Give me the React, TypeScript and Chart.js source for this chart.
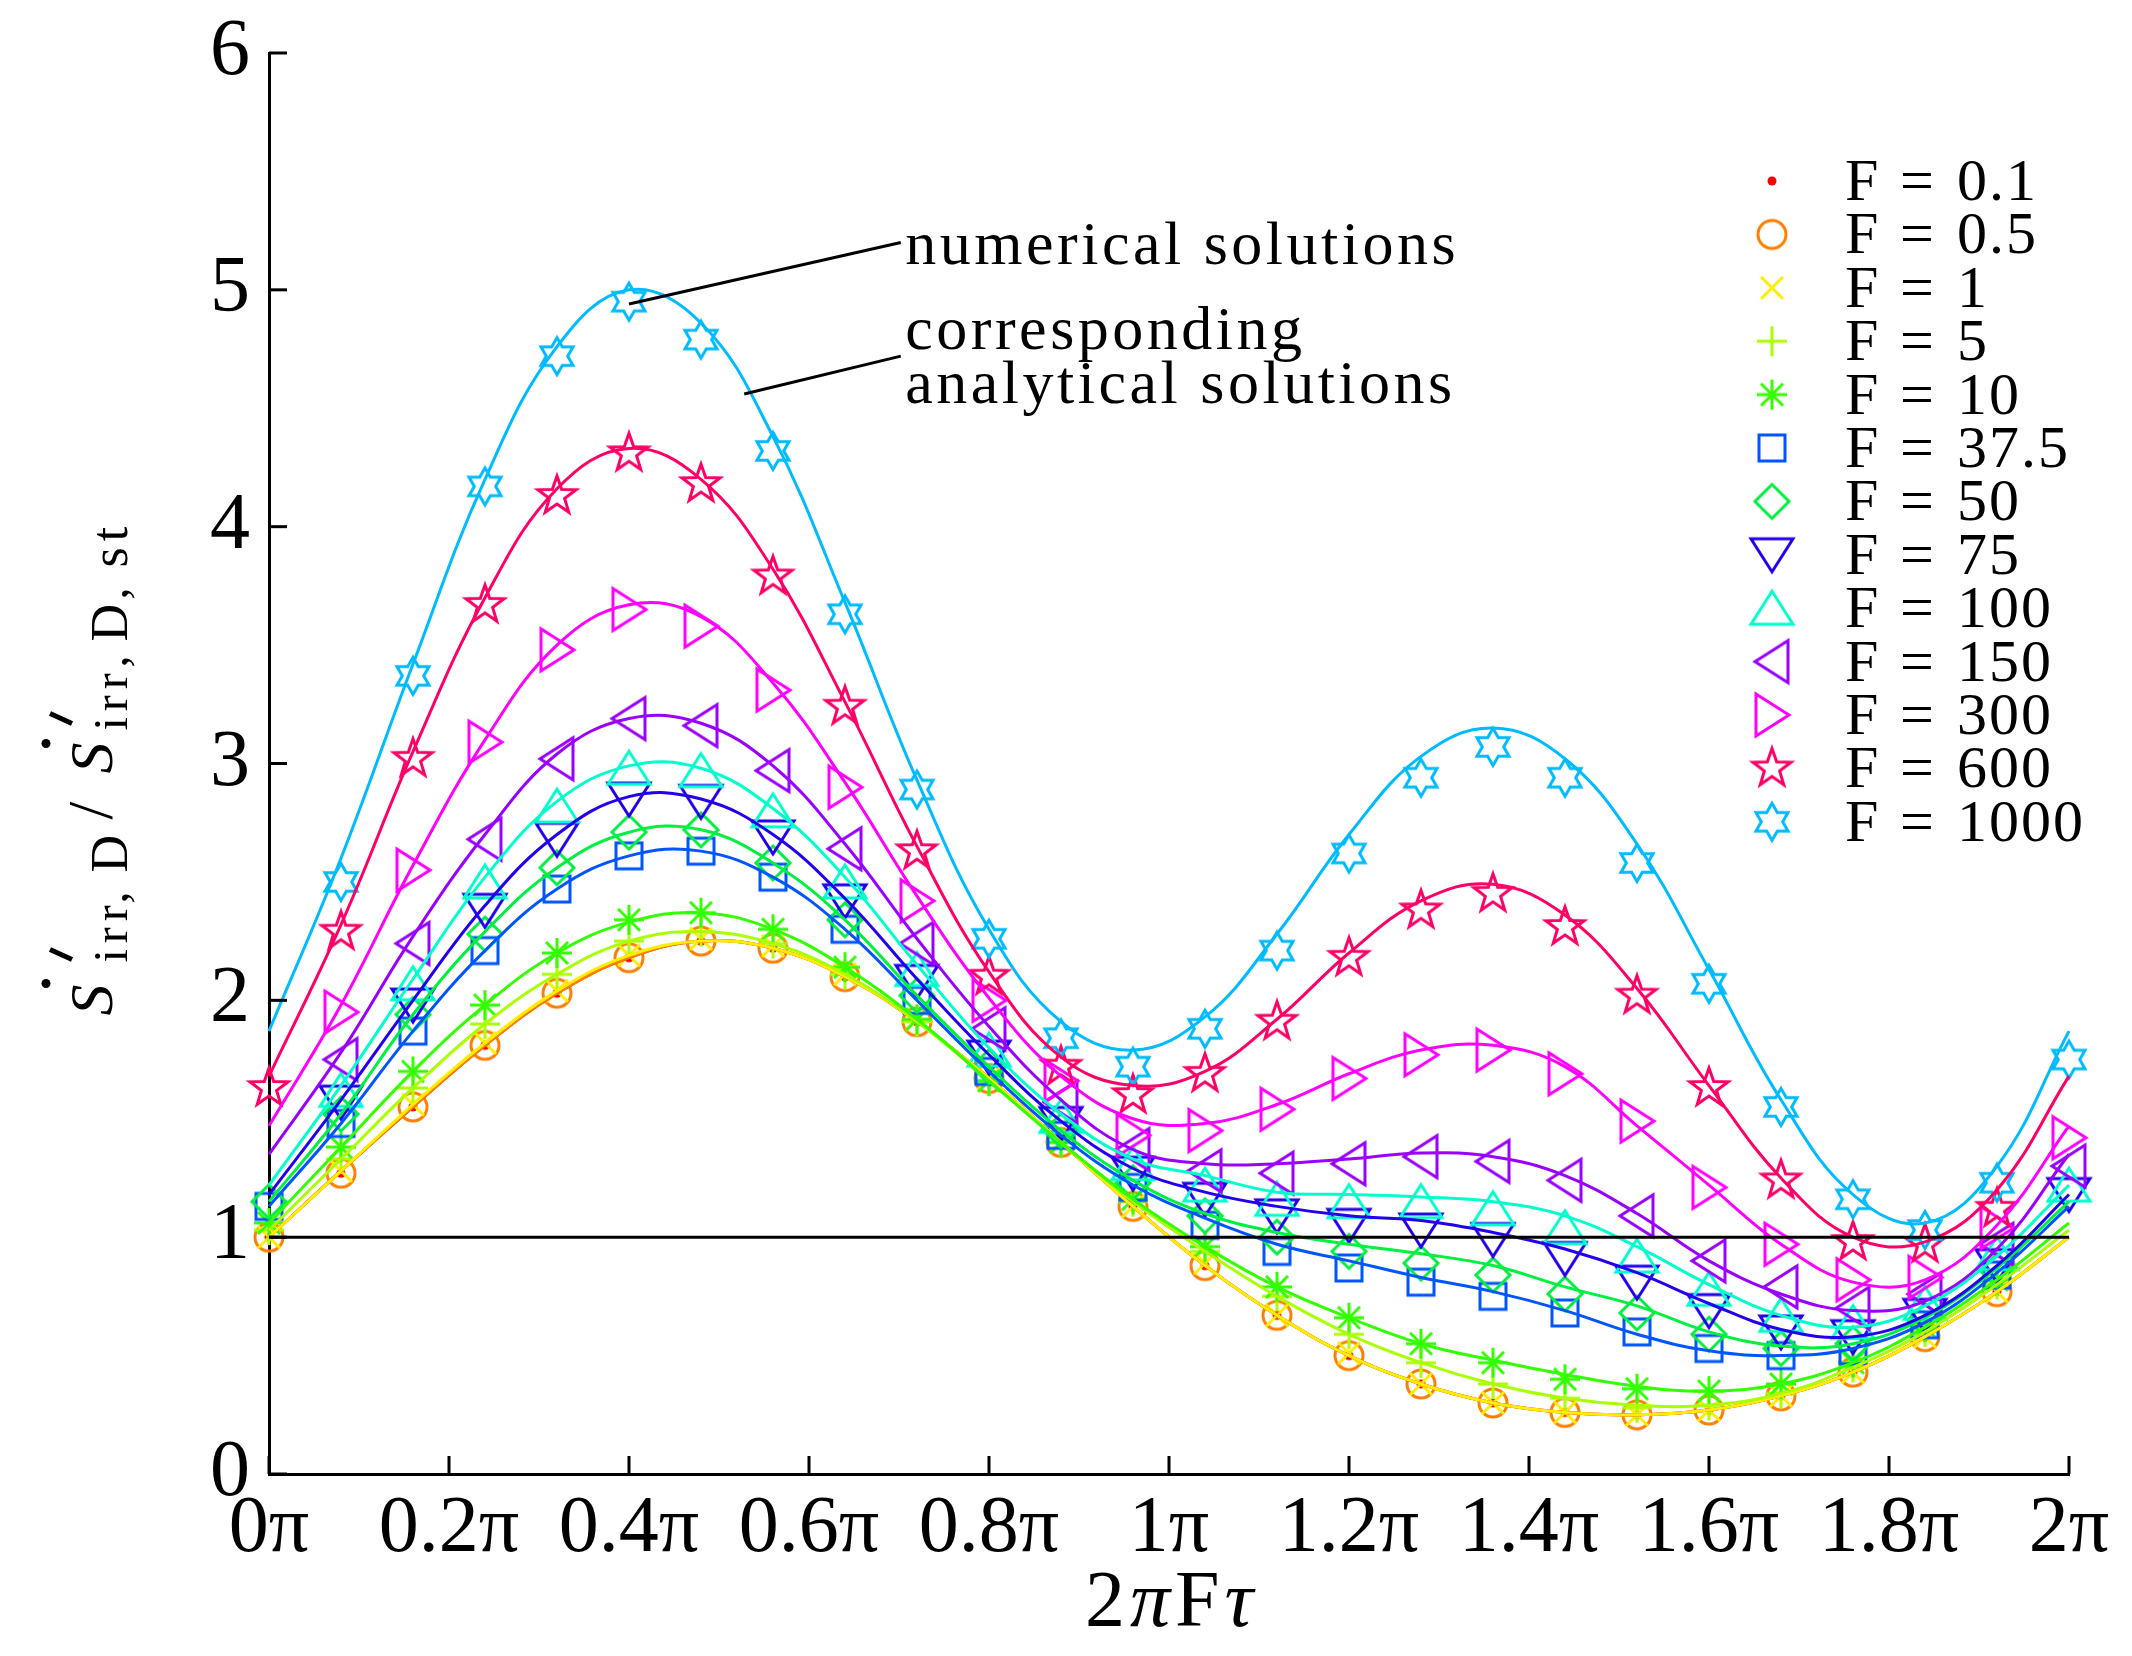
import React, { useEffect, useRef } from 'react';
import { Chart, registerables } from 'chart.js';

Chart.register(...registerables);

// x positions in units of pi
const xPos = [0, 0.08, 0.16, 0.24, 0.32, 0.4, 0.48, 0.56, 0.64, 0.72, 0.8, 0.88, 0.96, 1.04, 1.12, 1.2, 1.28, 1.36, 1.44, 1.52, 1.6, 1.68, 1.76, 1.84, 1.92, 2.0];

// numerical solutions (markers)
const num0_1 = [1.00, 1.27, 1.55, 1.81, 2.03, 2.18, 2.25, 2.22, 2.10, 1.91, 1.67, 1.40, 1.13, 0.88, 0.67, 0.50, 0.38, 0.30, 0.26, 0.25, 0.27, 0.33, 0.43, 0.58, 0.77, null];
const num0_5 = [1.00, 1.27, 1.55, 1.81, 2.03, 2.18, 2.25, 2.22, 2.10, 1.91, 1.67, 1.40, 1.13, 0.88, 0.67, 0.50, 0.38, 0.30, 0.26, 0.25, 0.27, 0.33, 0.43, 0.58, 0.77, null];
const num1 = [1.00, 1.28, 1.56, 1.82, 2.04, 2.19, 2.26, 2.23, 2.11, 1.92, 1.67, 1.40, 1.13, 0.89, 0.67, 0.51, 0.38, 0.30, 0.26, 0.25, 0.27, 0.33, 0.43, 0.58, 0.77, null];
const num5 = [1.03, 1.33, 1.63, 1.90, 2.11, 2.25, 2.29, 2.24, 2.11, 1.91, 1.66, 1.40, 1.15, 0.94, 0.75, 0.59, 0.47, 0.38, 0.32, 0.28, 0.29, 0.34, 0.45, 0.60, 0.80, null];
const num10 = [1.06, 1.38, 1.70, 1.98, 2.20, 2.34, 2.37, 2.30, 2.14, 1.92, 1.66, 1.40, 1.16, 0.96, 0.79, 0.66, 0.55, 0.47, 0.40, 0.36, 0.35, 0.38, 0.47, 0.62, 0.82, null];
const num37_5 = [1.13, 1.48, 1.87, 2.21, 2.47, 2.61, 2.63, 2.52, 2.30, 2.00, 1.70, 1.43, 1.21, 1.05, 0.94, 0.87, 0.81, 0.75, 0.68, 0.60, 0.53, 0.50, 0.52, 0.63, 0.84, null];
const num50 = [1.15, 1.52, 1.94, 2.28, 2.56, 2.71, 2.72, 2.58, 2.34, 2.02, 1.72, 1.45, 1.23, 1.09, 1.00, 0.94, 0.89, 0.84, 0.76, 0.68, 0.59, 0.53, 0.55, 0.65, 0.86, null];
const num75 = [null, 1.57, 1.98, 2.38, 2.68, 2.85, 2.84, 2.69, 2.42, 2.08, 1.76, 1.48, 1.27, 1.16, 1.09, 1.05, 1.03, 0.99, 0.91, 0.81, 0.69, 0.60, 0.58, 0.67, 0.88, 1.18];
const num100 = [null, 1.62, 2.07, 2.50, 2.82, 2.98, 2.97, 2.80, 2.50, 2.13, 1.79, 1.51, 1.31, 1.22, 1.16, 1.15, 1.15, 1.12, 1.04, 0.92, 0.78, 0.67, 0.64, 0.72, 0.93, 1.22];
const num150 = [null, 1.75, 2.24, 2.68, 3.02, 3.19, 3.16, 2.97, 2.64, 2.24, 1.88, 1.57, 1.37, 1.28, 1.27, 1.31, 1.34, 1.32, 1.24, 1.09, 0.90, 0.79, 0.70, 0.76, 0.97, 1.30];
const num300 = [null, 1.95, 2.55, 3.09, 3.48, 3.65, 3.58, 3.31, 2.90, 2.42, 2.00, 1.66, 1.43, 1.45, 1.54, 1.67, 1.77, 1.79, 1.69, 1.49, 1.21, 0.97, 0.82, 0.83, 1.04, 1.42];
const num600 = [1.63, 2.29, 3.02, 3.67, 4.13, 4.31, 4.18, 3.79, 3.24, 2.63, 2.10, 1.72, 1.60, 1.69, 1.91, 2.18, 2.38, 2.45, 2.31, 2.02, 1.63, 1.24, 0.98, 0.97, 1.12, null];
const num1000 = [null, 2.50, 3.37, 4.17, 4.72, 4.95, 4.79, 4.32, 3.63, 2.89, 2.26, 1.84, 1.72, 1.88, 2.21, 2.62, 2.94, 3.07, 2.94, 2.58, 2.07, 1.55, 1.16, 1.03, 1.23, 1.75];

// corresponding analytical solutions (lines)
const ana0_1 = [1.00, 1.28, 1.55, 1.81, 2.03, 2.18, 2.25, 2.22, 2.10, 1.91, 1.67, 1.40, 1.13, 0.88, 0.67, 0.50, 0.38, 0.30, 0.26, 0.25, 0.27, 0.33, 0.43, 0.58, 0.77, 1.00];
const ana0_5 = [1.00, 1.28, 1.55, 1.81, 2.03, 2.18, 2.25, 2.22, 2.10, 1.91, 1.67, 1.40, 1.13, 0.88, 0.67, 0.50, 0.38, 0.30, 0.26, 0.25, 0.27, 0.33, 0.43, 0.58, 0.77, 1.00];
const ana1 = [1.00, 1.28, 1.56, 1.82, 2.04, 2.19, 2.25, 2.22, 2.10, 1.91, 1.67, 1.40, 1.13, 0.88, 0.67, 0.50, 0.38, 0.30, 0.26, 0.25, 0.27, 0.33, 0.43, 0.58, 0.77, 1.00];
const ana5 = [1.03, 1.33, 1.63, 1.90, 2.11, 2.25, 2.29, 2.24, 2.11, 1.91, 1.66, 1.40, 1.15, 0.94, 0.75, 0.59, 0.47, 0.38, 0.32, 0.29, 0.29, 0.34, 0.45, 0.60, 0.80, 1.03];
const ana10 = [1.06, 1.38, 1.70, 1.98, 2.20, 2.33, 2.37, 2.30, 2.14, 1.92, 1.66, 1.40, 1.16, 0.96, 0.79, 0.66, 0.55, 0.48, 0.42, 0.37, 0.35, 0.38, 0.47, 0.62, 0.82, 1.06];
const ana37_5 = [1.13, 1.48, 1.87, 2.21, 2.47, 2.61, 2.63, 2.52, 2.30, 2.00, 1.70, 1.43, 1.22, 1.08, 0.97, 0.90, 0.83, 0.77, 0.69, 0.59, 0.52, 0.50, 0.53, 0.64, 0.85, 1.13];
const ana50 = [1.15, 1.52, 1.94, 2.29, 2.56, 2.71, 2.72, 2.58, 2.34, 2.02, 1.72, 1.45, 1.24, 1.10, 1.02, 0.97, 0.93, 0.88, 0.79, 0.71, 0.60, 0.54, 0.55, 0.66, 0.87, 1.15];
const ana75 = [1.18, 1.58, 2.00, 2.40, 2.70, 2.86, 2.85, 2.70, 2.43, 2.09, 1.77, 1.49, 1.29, 1.19, 1.13, 1.09, 1.07, 1.02, 0.95, 0.85, 0.72, 0.61, 0.58, 0.67, 0.88, 1.18];
const ana100 = [1.22, 1.64, 2.09, 2.52, 2.84, 2.99, 2.98, 2.81, 2.52, 2.15, 1.80, 1.52, 1.33, 1.26, 1.19, 1.18, 1.17, 1.15, 1.09, 0.96, 0.80, 0.67, 0.62, 0.71, 0.92, 1.22];
const ana150 = [1.35, 1.78, 2.27, 2.70, 3.04, 3.19, 3.17, 2.99, 2.66, 2.26, 1.89, 1.58, 1.37, 1.31, 1.31, 1.33, 1.355, 1.34, 1.26, 1.10, 0.90, 0.76, 0.69, 0.73, 0.95, 1.35];
const ana300 = [1.47, 1.98, 2.57, 3.10, 3.50, 3.67, 3.62, 3.34, 2.92, 2.44, 2.01, 1.68, 1.50, 1.48, 1.56, 1.69, 1.79, 1.81, 1.72, 1.47, 1.22, 0.97, 0.81, 0.82, 1.05, 1.47];
const ana600 = [1.68, 2.32, 3.05, 3.70, 4.16, 4.33, 4.20, 3.82, 3.26, 2.65, 2.12, 1.76, 1.64, 1.70, 1.92, 2.20, 2.42, 2.49, 2.36, 2.05, 1.64, 1.25, 1.00, 0.98, 1.20, 1.68];
const ana1000 = [1.87, 2.60, 3.42, 4.20, 4.76, 5.00, 4.86, 4.38, 3.68, 2.93, 2.30, 1.91, 1.79, 1.93, 2.28, 2.70, 3.03, 3.15, 3.02, 2.66, 2.13, 1.58, 1.18, 1.06, 1.30, 1.87];

const fLabels = ['0.1', '0.5', '1', '5', '10', '37.5', '50', '75', '100', '150', '300', '600', '1000'];
const colors = ['#ff0000', '#ff8000', '#ffee00', '#aaff00', '#33ff00', '#0055ff', '#00f040', '#2200ee', '#00ffcc', '#9900ff', '#ff00ff', '#ff0066', '#00bbff'];
const markerKinds = ['dot', 'circle', 'x', 'plus', 'asterisk', 'square', 'diamond', 'triDown', 'triUp', 'triLeft', 'triRight', 'star5', 'hexagram'];
const numerical = [num0_1, num0_5, num1, num5, num10, num37_5, num50, num75, num100, num150, num300, num600, num1000];
const analytical = [ana0_1, ana0_5, ana1, ana5, ana10, ana37_5, ana50, ana75, ana100, ana150, ana300, ana600, ana1000];

const xTicks = [0, 0.2, 0.4, 0.6, 0.8, 1, 1.2, 1.4, 1.6, 1.8, 2];
const refLevel = 1;

// annotation leader lines, in data units (x in pi, y in ratio)
const noteNumerical = { from: [0.4, 4.94], to: [0.702, 5.2], textAt: [0.707, 5.11] };
const noteAnalytical = { from: [0.528, 4.56], to: [0.702, 4.72], textAt: [0.707, 4.75] };

const SERIF = '"Liberation Serif", "Times New Roman", serif';

function makeMarker(kind: string, color: string): HTMLCanvasElement {
  const S = 54;
  const c = document.createElement('canvas');
  c.width = S;
  c.height = S;
  const g = c.getContext('2d')!;
  g.translate(S / 2, S / 2);
  g.strokeStyle = color;
  g.fillStyle = color;
  g.lineWidth = 3;
  g.lineJoin = 'miter';
  const poly = (pts: number[][]) => {
    g.beginPath();
    pts.forEach(([x, y], i) => (i ? g.lineTo(x, y) : g.moveTo(x, y)));
    g.closePath();
    g.stroke();
  };
  const seg = (x1: number, y1: number, x2: number, y2: number) => {
    g.beginPath();
    g.moveTo(x1, y1);
    g.lineTo(x2, y2);
    g.stroke();
  };
  switch (kind) {
    case 'dot':
      g.beginPath();
      g.arc(0, 0, 4.5, 0, Math.PI * 2);
      g.fill();
      break;
    case 'circle':
      g.beginPath();
      g.arc(0, 0, 14, 0, Math.PI * 2);
      g.stroke();
      break;
    case 'x':
      seg(-11, -11, 11, 11);
      seg(-11, 11, 11, -11);
      break;
    case 'plus':
      seg(-15, 0, 15, 0);
      seg(0, -15, 0, 15);
      break;
    case 'asterisk':
      seg(-15, 0, 15, 0);
      seg(0, -15, 0, 15);
      seg(-11, -11, 11, 11);
      seg(-11, 11, 11, -11);
      break;
    case 'square':
      poly([[-13, -13], [13, -13], [13, 13], [-13, 13]]);
      break;
    case 'diamond':
      poly([[0, -17], [17, 0], [0, 17], [-17, 0]]);
      break;
    case 'triUp':
      poly([[0, -17], [21, 16], [-21, 16]]);
      break;
    case 'triDown':
      poly([[0, 17], [21, -16], [-21, -16]]);
      break;
    case 'triLeft':
      poly([[-17, 0], [16, -21], [16, 21]]);
      break;
    case 'triRight':
      poly([[17, 0], [-16, -21], [-16, 21]]);
      break;
    case 'star5': {
      const pts: number[][] = [];
      for (let k = 0; k < 10; k++) {
        const r = k % 2 === 0 ? 20 : 8;
        const a = -Math.PI / 2 + (k * Math.PI) / 5;
        pts.push([r * Math.cos(a), r * Math.sin(a)]);
      }
      poly(pts);
      break;
    }
    case 'hexagram': {
      const pts: number[][] = [];
      for (let k = 0; k < 12; k++) {
        const r = k % 2 === 0 ? 18.5 : 10.7;
        const a = -Math.PI / 2 + (k * Math.PI) / 6;
        pts.push([r * Math.cos(a), r * Math.sin(a)]);
      }
      poly(pts);
      break;
    }
  }
  return c;
}

const toPoints = (arr: (number | null)[]) =>
  xPos.map((x, i) => (arr[i] == null ? null : { x, y: arr[i] as number })).filter(Boolean) as { x: number; y: number }[];

const piLabel = (v: number) => {
  const r = Math.round(v * 10) / 10;
  return String(r) + 'π';
};

export default function App() {
  const canvasRef = useRef<HTMLCanvasElement>(null);
  const chartRef = useRef<Chart | null>(null);

  useEffect(() => {
    if (!canvasRef.current) return;
    const ctx = canvasRef.current.getContext('2d');
    if (!ctx) return;

    const markers = markerKinds.map((k, i) => makeMarker(k, colors[i]));

    const lineSets = analytical.map((arr, i) => ({
      label: 'analytical F = ' + fLabels[i],
      data: toPoints(arr),
      showLine: true,
      borderColor: colors[i],
      borderWidth: 3,
      pointRadius: 0,
      tension: 0.4,
      clip: false as const,
    }));
    const markerSets = numerical.map((arr, i) => ({
      label: 'F = ' + fLabels[i],
      data: toPoints(arr),
      showLine: false,
      pointStyle: markers[i],
      pointRadius: 10,
      borderColor: colors[i],
      backgroundColor: colors[i],
      clip: false as const,
    }));
    const refSet = {
      label: 'reference',
      data: [{ x: xTicks[0], y: refLevel }, { x: xTicks[xTicks.length - 1], y: refLevel }],
      showLine: true,
      borderColor: '#000',
      borderWidth: 3,
      pointRadius: 0,
      tension: 0,
    };

    const decor = {
      id: 'decor',
      afterDatasetsDraw(chart: any) {
        const { ctx: c, chartArea: a, scales } = chart;
        const xs = scales.x;
        const ys = scales.y;
        c.save();
        c.strokeStyle = '#000';
        c.fillStyle = '#000';
        c.lineWidth = 3;
        // inner tick marks
        ys.ticks.forEach((t: any) => {
          const p = ys.getPixelForValue(t.value);
          c.beginPath();
          c.moveTo(a.left, p);
          c.lineTo(a.left + 18, p);
          c.stroke();
        });
        xs.ticks.forEach((t: any) => {
          const p = xs.getPixelForValue(t.value);
          c.beginPath();
          c.moveTo(p, a.bottom);
          c.lineTo(p, a.bottom - 18);
          c.stroke();
        });

        // annotations
        const P = (pt: number[]) => [xs.getPixelForValue(pt[0]), ys.getPixelForValue(pt[1])];
        [noteNumerical, noteAnalytical].forEach((n) => {
          const [x1, y1] = P(n.from);
          const [x2, y2] = P(n.to);
          c.beginPath();
          c.moveTo(x1, y1);
          c.lineTo(x2, y2);
          c.stroke();
        });
        c.font = '62px ' + SERIF;
        (c as any).letterSpacing = '3.5px';
        c.textAlign = 'left';
        c.textBaseline = 'alphabetic';
        const [nx, ny] = P(noteNumerical.textAt);
        c.fillText('numerical solutions', nx, ny);
        const [ax, ay] = P(noteAnalytical.textAt);
        c.fillText('corresponding', ax, ay);
        c.fillText('analytical solutions', ax, ay + 54);

        // legend
        const mx = a.right - 297;
        fLabels.forEach((f, i) => {
          const cy = a.top + 128 + i * 53.4;
          const m = markers[i];
          c.drawImage(m, mx - m.width / 2, cy - m.height / 2);
          c.font = '60px ' + SERIF;
          (c as any).letterSpacing = '0px';
          c.textAlign = 'left';
          c.fillText('F', a.right - 224, cy + 19);
          c.textAlign = 'center';
          c.fillText('=', a.right - 152, cy + 19);
          c.textAlign = 'left';
          (c as any).letterSpacing = '2px';
          c.fillText(f, a.right - 112, cy + 19);
        });
        (c as any).letterSpacing = '0px';

        // x axis title: 2πFτ
        const parts = [
          { t: '2', f: '80px ' + SERIF },
          { t: 'π', f: 'italic 80px ' + SERIF },
          { t: 'F', f: '80px ' + SERIF },
          { t: 'τ', f: 'italic 80px ' + SERIF },
        ];
        const gap = 5;
        let total = 0;
        parts.forEach((p) => {
          c.font = p.f;
          total += c.measureText(p.t).width + gap;
        });
        total -= gap;
        let px = (a.left + a.right) / 2 - total / 2;
        const baseY = a.bottom + 152;
        c.textAlign = 'left';
        parts.forEach((p) => {
          c.font = p.f;
          c.fillText(p.t, px, baseY);
          px += c.measureText(p.t).width + gap;
        });

        // y axis title: Ṡ'irr,D / Ṡ'irr,D,st (rotated)
        const mainX = a.left - 157;
        const startY = (a.top + a.bottom) / 2 + 252;
        c.translate(mainX, startY);
        c.rotate(-Math.PI / 2);
        const yParts = [
          { t: 'S', f: 'italic 62px ' + SERIF, at: 0, dy: 0, ls: 0 },
          { t: 'irr', f: '48px ' + SERIF, at: 53, dy: 15, ls: 6 },
          { t: ',', f: '48px ' + SERIF, at: 112, dy: 15, ls: 0 },
          { t: 'D', f: '52px ' + SERIF, at: 143, dy: 15, ls: 0 },
          { t: '/', f: '64px ' + SERIF, at: 196, dy: 0, ls: 0 },
          { t: 'S', f: 'italic 62px ' + SERIF, at: 242, dy: 0, ls: 0 },
          { t: 'irr', f: '48px ' + SERIF, at: 285, dy: 15, ls: 6 },
          { t: ',', f: '48px ' + SERIF, at: 348, dy: 15, ls: 0 },
          { t: 'D', f: '52px ' + SERIF, at: 374, dy: 15, ls: 0 },
          { t: ',', f: '48px ' + SERIF, at: 416, dy: 15, ls: 0 },
          { t: 'st', f: '52px ' + SERIF, at: 448, dy: 15, ls: 6 },
        ];
        c.textAlign = 'left';
        c.textBaseline = 'alphabetic';
        yParts.forEach((p) => {
          c.font = p.f;
          (c as any).letterSpacing = p.ls + 'px';
          c.fillText(p.t, p.at, p.dy);
        });
        (c as any).letterSpacing = '0px';
        // dots and primes over S
        [{ dot: 32, prime: 56 }, { dot: 272, prime: 292 }].forEach((d) => {
          c.beginPath();
          c.arc(d.dot, -66, 4.5, 0, Math.PI * 2);
          c.fill();
          c.beginPath();
          c.lineWidth = 5;
          c.moveTo(d.prime, -40);
          c.lineTo(d.prime + 10, -62);
          c.stroke();
        });
        c.restore();
      },
    };

    chartRef.current = new Chart(ctx, {
      type: 'scatter',
      data: { datasets: [refSet, ...lineSets.slice().reverse(), ...markerSets.slice().reverse()] as any },
      options: {
        animation: false,
        responsive: false,
        devicePixelRatio: 1,
        layout: { padding: { top: 53, right: 63, left: 0, bottom: 0 } },
        plugins: { legend: { display: false }, tooltip: { enabled: false } },
        scales: {
          x: {
            type: 'linear',
            min: 0,
            max: 2,
            afterFit: (s: any) => {
              s.height = 182;
            },
            afterBuildTicks: (s: any) => {
              s.ticks = xTicks.map((v) => ({ value: v }));
            },
            grid: { display: false, drawTicks: false },
            border: { display: true, color: '#000', width: 3 },
            ticks: {
              padding: 8,
              color: '#000',
              maxRotation: 0,
              autoSkip: false,
              font: { family: SERIF, size: 80 },
              callback: (v: any) => piLabel(Number(v)),
            },
          },
          y: {
            type: 'linear',
            min: 0,
            max: 6,
            afterFit: (s: any) => {
              s.width = 269;
            },
            grid: { display: false, drawTicks: false },
            border: { display: true, color: '#000', width: 3 },
            ticks: {
              stepSize: 1,
              padding: 19,
              color: '#000',
              font: { family: SERIF, size: 80, lineHeight: 0.8 },
            },
          },
        },
      },
      plugins: [decor],
    });

    return () => {
      if (chartRef.current) {
        chartRef.current.destroy();
        chartRef.current = null;
      }
    };
  }, []);

  return (
    <div style={{ position: 'absolute', left: 0, top: 0, width: 2132, height: 1656, background: '#fff' }}>
      <canvas ref={canvasRef} width={2132} height={1656} style={{ width: 2132, height: 1656 }} />
    </div>
  );
}
